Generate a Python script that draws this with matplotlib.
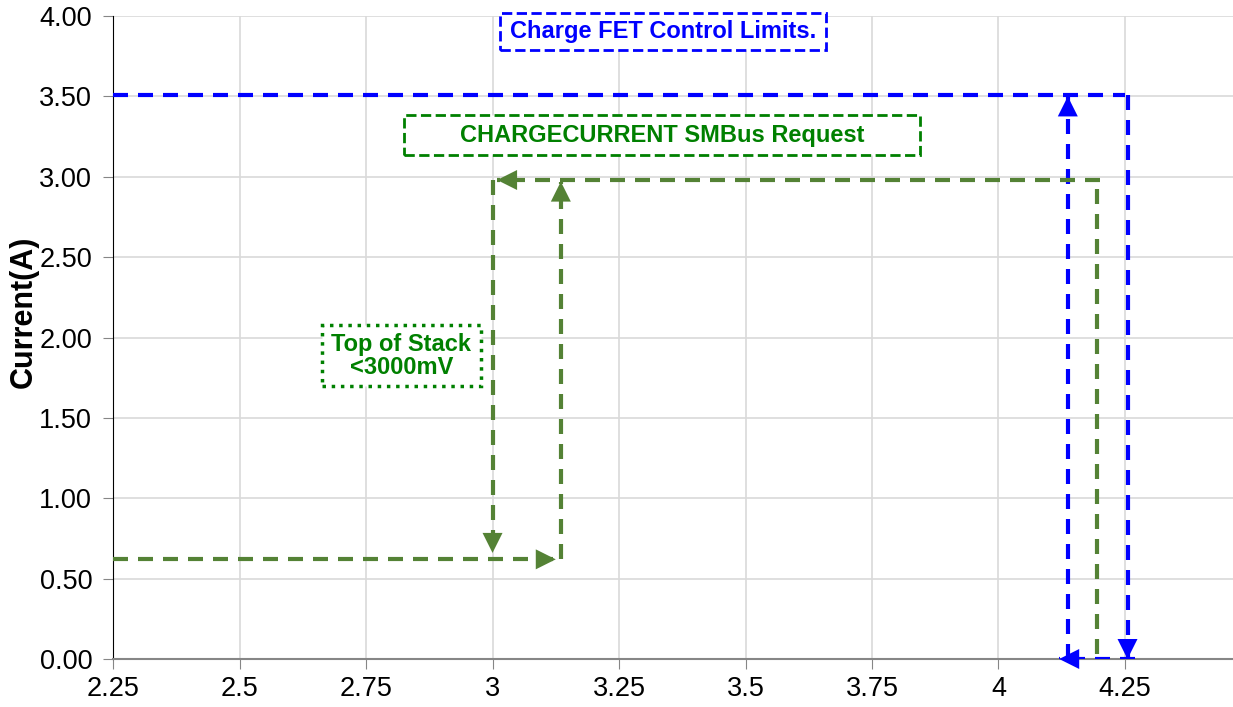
import matplotlib.pyplot as plt
from matplotlib.patches import Rectangle

plt.rcParams['font.family'] = ['Liberation Sans', 'DejaVu Sans']

# axis ticks
x_ticks = [2.25, 2.5, 2.75, 3.0, 3.25, 3.5, 3.75, 4.0, 4.25]
x_tick_labels = ["2.25", "2.5", "2.75", "3", "3.25", "3.5", "3.75", "4", "4.25"]
y_ticks = [0.0, 0.5, 1.0, 1.5, 2.0, 2.5, 3.0, 3.5, 4.0]

# blue: charge FET control limits
blue_top_x = [2.25, 4.25]
blue_top_y = [3.51, 3.51]
blue_right_x = [4.255, 4.255]
blue_right_y = [3.51, 0.0]
blue_bottom_x = [4.27, 4.12]
blue_bottom_y = [0.0, 0.0]
blue_left_x = [4.137, 4.137]
blue_left_y = [0.0, 3.50]

# green: CHARGECURRENT request
green_low_x = [2.25, 3.125]
green_low_y = [0.62, 0.62]
green_up_x = [3.135, 3.135]
green_up_y = [0.62, 2.97]
green_top_x = [4.20, 3.009]
green_top_y = [2.98, 2.98]
green_down_x = [3.0, 3.0]
green_down_y = [2.98, 0.66]
green_right_x = [4.195, 4.195]
green_right_y = [0.03, 2.98]

BLUE = "#0000FF"
GREEN = "#548235"
TEXT_GREEN = "#008000"
dash = (0, (3.6, 2.4))

fig = plt.figure(figsize=(12.33, 7.07), dpi=100)
ax = fig.add_axes([0.0917, 0.0679, 0.9083, 0.9094])


def seg(xs, ys, color, arrow=False):
    ax.plot(xs, ys, color=color, lw=3, linestyle=dash, dash_capstyle='butt', zorder=3)
    if arrow:
        ax.annotate("", xy=(xs[1], ys[1]), xytext=(xs[0], ys[0]),
                    arrowprops=dict(arrowstyle="-|>,head_length=0.9,head_width=0.45",
                                    color=color, lw=0, shrinkA=0, shrinkB=0,
                                    mutation_scale=16),
                    zorder=4)


def label_box(x0, x1, y0, y1, text, color, ls, lw=2):
    ax.add_patch(Rectangle((x0, y0), x1 - x0, y1 - y0, fc='white', ec=color,
                           lw=lw, ls=ls, zorder=5, clip_on=False))
    ax.text((x0 + x1) / 2, (y0 + y1) / 2, text, color=color, fontsize=17,
            fontweight='bold', ha='center', va='center', zorder=6,
            linespacing=1.0)


seg(blue_top_x, blue_top_y, BLUE)
seg(blue_right_x, blue_right_y, BLUE, arrow=True)
seg(blue_bottom_x, blue_bottom_y, BLUE, arrow=True)
seg(blue_left_x, blue_left_y, BLUE, arrow=True)

seg(green_low_x, green_low_y, GREEN, arrow=True)
seg(green_up_x, green_up_y, GREEN, arrow=True)
seg(green_top_x, green_top_y, GREEN, arrow=True)
seg(green_down_x, green_down_y, GREEN, arrow=True)
seg(green_right_x, green_right_y, GREEN)

label_box(3.015, 3.659, 3.789, 4.019, "Charge FET Control Limits.", BLUE, '--')
label_box(2.825, 3.845, 3.135, 3.384, "CHARGECURRENT SMBus Request", TEXT_GREEN, '--')
label_box(2.663, 2.977, 1.698, 2.078, "Top of Stack\n<3000mV", TEXT_GREEN, ':', lw=2.5)

ax.set_xlim(2.25, 4.4635)
ax.set_ylim(0, 4.0)
ax.set_xticks(x_ticks)
ax.set_xticklabels(x_tick_labels)
ax.set_yticks(y_ticks)
ax.set_yticklabels([f"{v:.2f}" for v in y_ticks])
ax.tick_params(labelsize=19.5, direction='out', length=7, color='#868686')
ax.tick_params(axis='y', pad=8)
ax.tick_params(axis='x', pad=5)
ax.grid(True, color='#d9d9d9', lw=1.2, zorder=0)
ax.set_axisbelow(True)
for s in ['top', 'right']:
    ax.spines[s].set_visible(False)
ax.spines['left'].set_color('black')
ax.spines['bottom'].set_color('#868686')
ax.spines['bottom'].set_linewidth(1.5)
ax.set_ylabel("Current(A)", fontsize=22, fontweight='bold')
ax.yaxis.set_label_coords(-0.066, 0.54)

fig.savefig("out.png", dpi=100)
